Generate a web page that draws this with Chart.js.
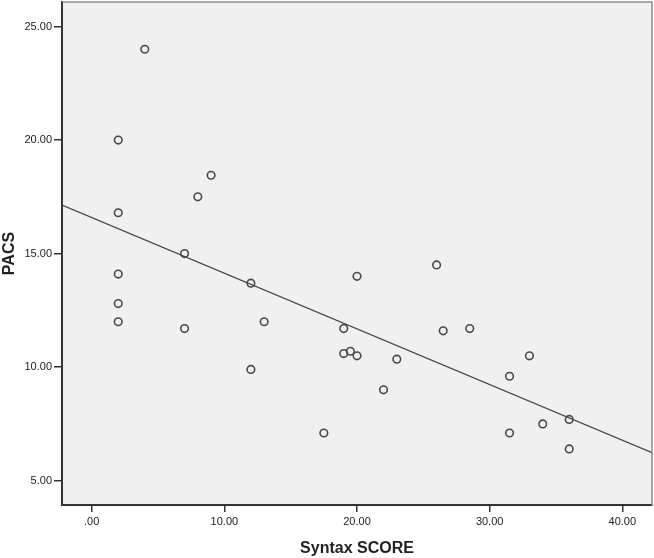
<!DOCTYPE html>
<html>
<head>
<meta charset="utf-8">
<script src="https://cdn.jsdelivr.net/npm/chart.js@4"></script>
<style>
  html, body { margin: 0; padding: 0; background: #fff; }
  #wrap { width: 654px; height: 558px; }
</style>
</head>
<body>
<div id="wrap"><canvas id="scatter"></canvas></div>
<script>
// values
const syntaxScore = [4, 2, 9, 8, 2, 7, 2, 2, 2, 7, 12, 13, 12, 20, 26, 19, 19, 19.5, 20, 23, 22, 17.5, 26.5, 28.5, 33, 31.5, 31.5, 34, 36, 36];
const pacs = [24.0, 20.0, 18.45, 17.5, 16.8, 15.0, 14.1, 12.8, 12.0, 11.7, 13.7, 12.0, 9.9, 14.0, 14.5, 11.7, 10.6, 10.7, 10.5, 10.35, 9.0, 7.1, 11.6, 11.7, 10.5, 9.6, 7.1, 7.5, 7.7, 6.4];
// fit line, read at the left and right edges of the plot
const fitX = [-2.24, 42.24];
const fitY = [17.14, 6.23];
const xTicks = [0, 10, 20, 30, 40];
const yTicks = [5, 10, 15, 20, 25];

const points = syntaxScore.map((x, i) => ({ x: x, y: pacs[i] }));
const fitLine = fitX.map((x, i) => ({ x: x, y: fitY[i] }));

const plotBg = {
  id: "plotBg",
  beforeDraw(chart) {
    const { ctx, chartArea: a } = chart;
    ctx.save();
    ctx.fillStyle = "#f0f0f0";
    ctx.fillRect(a.left, a.top, a.right - a.left, a.bottom - a.top);
    ctx.restore();
  },
  afterDraw(chart) {
    const { ctx, chartArea: a } = chart;
    ctx.save();
    ctx.strokeStyle = "#8a8a8a";
    ctx.lineWidth = 1.5;
    ctx.beginPath();
    ctx.moveTo(a.left, a.top);
    ctx.lineTo(a.right, a.top);
    ctx.lineTo(a.right, a.bottom);
    ctx.stroke();
    ctx.restore();
  }
};

const fmt = (v) => (v === 0 ? ".00" : v.toFixed(2));

const ctx = document.getElementById("scatter").getContext("2d");
new Chart(ctx, {
  type: "scatter",
  data: {
    datasets: [
      {
        label: "PACS",
        data: points,
        pointRadius: 3.8,
        pointHoverRadius: 3.8,
        pointBorderWidth: 1.6,
        pointBorderColor: "#4a4a4a",
        pointBackgroundColor: "rgba(0,0,0,0)",
        order: 1
      },
      {
        type: "line",
        label: "Fit",
        data: fitLine,
        borderColor: "#444",
        borderWidth: 1.2,
        pointRadius: 0,
        fill: false,
        order: 2
      }
    ]
  },
  options: {
    responsive: true,
    maintainAspectRatio: false,
    animation: false,
    layout: { autoPadding: false, padding: { left: 0, right: 2, top: 2, bottom: 0 } },
    plugins: { legend: { display: false }, tooltip: { enabled: false } },
    scales: {
      x: {
        type: "linear",
        min: -2.24,
        max: 42.24,
        afterBuildTicks: (s) => { s.ticks = xTicks.map((v) => ({ value: v })); },
        afterFit: (s) => { s.height = 53; s.paddingLeft = 0; s.paddingRight = 0; },
        grid: { drawOnChartArea: false, drawTicks: true, tickLength: 7, color: "#333", lineWidth: 1.5 },
        border: { display: true, color: "#333", width: 2 },
        ticks: { color: "#222", padding: 3, font: { family: "Arial, 'Liberation Sans'", size: 11 }, callback: fmt, maxRotation: 0 },
        title: {
          display: true,
          text: "Syntax SCORE",
          color: "#222",
          padding: { top: 0, bottom: 0 },
          font: { family: "Arial, 'Liberation Sans'", size: 16, weight: "bold" }
        }
      },
      y: {
        type: "linear",
        min: 3.93,
        max: 26.08,
        afterBuildTicks: (s) => { s.ticks = yTicks.map((v) => ({ value: v })); },
        afterFit: (s) => { s.width = 62; s.paddingTop = 0; s.paddingBottom = 0; },
        grid: { drawOnChartArea: false, drawTicks: true, tickLength: 8, color: "#333", lineWidth: 1.5 },
        border: { display: true, color: "#333", width: 2 },
        ticks: { color: "#222", padding: 2, font: { family: "Arial, 'Liberation Sans'", size: 11 }, callback: fmt },
        title: {
          display: true,
          text: "PACS",
          color: "#222",
          padding: { top: 0, bottom: 0 },
          font: { family: "Arial, 'Liberation Sans'", size: 16, weight: "bold" }
        }
      }
    }
  },
  plugins: [plotBg]
});
</script>
</body>
</html>
